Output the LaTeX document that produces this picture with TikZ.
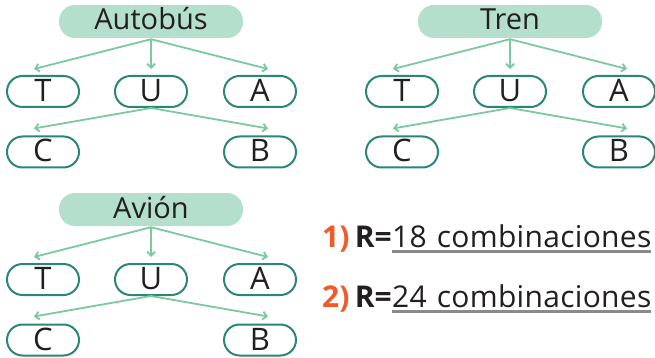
\documentclass[tikz,border=0pt]{standalone}
\usepackage{fontspec}
\setmainfont{Open Sans}
\newfontfamily\anchafont[LetterSpace=1]{Open Sans}
\usetikzlibrary{arrows.meta,positioning}
\definecolor{menta}{HTML}{B4DFCD}
\definecolor{verdeosc}{HTML}{2A8676}
\definecolor{rama}{HTML}{7CC9A0}
\definecolor{tinta}{HTML}{231F20}
\definecolor{naranja}{HTML}{F15A29}
\definecolor{gris}{HTML}{8A8A8C}
\tikzset{
  cabeza/.style={fill=menta, rounded corners=16pt, minimum width=184pt, minimum height=33pt,
    inner sep=0pt, text=tinta, text height=17pt, text depth=0pt, font=\fontsize{29}{29}\selectfont},
  opcion/.style={draw=verdeosc, line width=2pt, rounded corners=15.5pt, minimum width=72pt,
    minimum height=31pt, inner sep=0pt, text=tinta, text height=20pt, text depth=0pt,
    font=\fontsize{31}{31}\selectfont},
  flecha/.style={draw=rama, line width=1.8pt, -{Straight Barb[length=4pt,width=8pt]}},
  numero/.style={anchor=base west, inner sep=0pt, text=naranja, font=\fontsize{30}{30}\selectfont\bfseries},
  igual/.style={anchor=base west, inner sep=0pt, text=tinta, font=\fontsize{30}{30}\selectfont\bfseries},
  resp/.style={anchor=base west, inner sep=0pt, text=tinta, text width=259pt,
    font=\fontsize{30}{30}\anchafont},
  subraya/.style={draw=gris, line width=3pt}
}
\begin{document}
\begin{tikzpicture}[x=1pt,y=-1pt]
\useasboundingbox (0,0) rectangle (655,358);
\clip (0,0) rectangle (655,358);
% tres arboles
\foreach \nom/\dx/\dy [count=\k] in {Autobús/0/0, Tren/359/0, Avión/0/188} {
  \begin{scope}[shift={(\dx,\dy)}]
    \node[cabeza] (h\k) at (151,21.5) {\nom};
    \node[opcion] (t\k) at (43,91.5) {T};
    \node[opcion] (u\k) at (151,91.5) {U};
    \node[opcion] (a\k) at (260,91.5) {A};
    \node[opcion] (c\k) at (43,152) {C};
    \node[opcion] (b\k) at (260,152) {B};
    \draw[flecha] ([yshift=-1pt]h\k.south) -- ([xshift=-9pt,yshift=6pt]t\k.north);
    \draw[flecha] ([yshift=-1pt]h\k.south) -- ([yshift=6pt]u\k.north);
    \draw[flecha] ([yshift=-1pt]h\k.south) -- ([xshift=8pt,yshift=6pt]a\k.north);
    \draw[flecha] (u\k.south) -- ([xshift=-9pt,yshift=7pt]c\k.north);
    \draw[flecha] (u\k.south) -- ([xshift=8pt,yshift=7pt]b\k.north);
  \end{scope}
}
% respuestas
\node[numero] (n1) at (322,247) {1)};
\node[igual] (r1) at ([xshift=5pt]n1.base east) {R=};
\node[resp] (s1) at (r1.base east) {18 combinaciones};
\draw[subraya] ([yshift=-4pt]s1.base west) -- ([yshift=-4pt]s1.base east);
\node[numero] (n2) at (322,307) {2)};
\node[igual] (r2) at ([xshift=5pt]n2.base east) {R=};
\node[resp] (s2) at (r2.base east) {24 combinaciones};
\draw[subraya] ([yshift=-4pt]s2.base west) -- ([yshift=-4pt]s2.base east);
\end{tikzpicture}
\end{document}
